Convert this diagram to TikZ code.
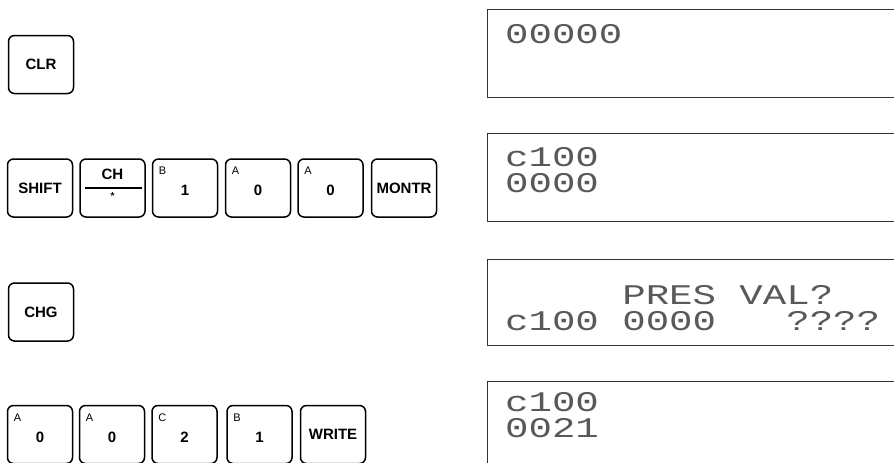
\documentclass[tikz,border=0pt]{standalone}
\usepackage{fontspec}
\setmainfont{Liberation Sans}
\newfontfamily\lcdfont[FakeStretch=1.37]{Liberation Mono}
\usetikzlibrary{calc}

\begin{document}
\begin{tikzpicture}[x=1pt, y=-1pt,
  key/.style={draw, line width=1.5pt, rounded corners=6pt, minimum width=65pt,
    minimum height=58pt, inner sep=0pt, font=\bfseries\fontsize{15}{15}\selectfont},
  sub/.style={anchor=north west, inner sep=0pt, font=\fontsize{11}{11}\selectfont},
  digit/.style={inner sep=0pt, font=\bfseries\fontsize{15}{15}\selectfont},
  lcd/.style={draw=black!80, line width=0.9pt},
  lcdtext/.style={anchor=base west, inner sep=0pt, text=black!65,
    font=\lcdfont\fontsize{28.5}{28.5}\selectfont}]
\useasboundingbox (0,0) rectangle (894,463);

% displays
\draw[lcd] (487,9) rectangle (900,97);
\draw[lcd] (487,133) rectangle (900,221);
\draw[lcd] (487,259) rectangle (900,345);
\draw[lcd] (487,475) |- (900,381);
\node[lcdtext] (d1) at (505,43) {00000};
\node[lcdtext] (d2a) at (505,166) {c100};
\node[lcdtext] (d2b) at (505,192) {0000};
\node[lcdtext] (d3a) at (505,304) {~~~~~PRES~VAL?};
\node[lcdtext] (d3b) at (505,330) {c100~0000~~~????};
\node[lcdtext] (d4a) at (505,411) {c100};
\node[lcdtext] (d4b) at (505,437) {0021};

% step 1
\node[key] (clr) at (41,64.5) {CLR};

% step 2
\node[key] (shift) at (40,188) {SHIFT};
\node[key] (ch) at (112.5,188) {};
\node[digit] (chtop) at ($(ch.center)+(0,-14)$) {CH};
\draw[line width=1.5pt] ($(ch.west)+(6,0)$) -- ($(ch.east)+(-4,0)$);
\node[digit, font=\bfseries\fontsize{10}{10}\selectfont] (chbot) at ($(ch.center)+(0,8)$) {*};
\foreach \name/\x/\s/\d in {bone/185/B/1, azero/258/A/0, azerob/330.5/A/0} {
  \node[key] (\name) at (\x,188) {};
  \node[sub] (\name s) at ($(\name.north west)+(7,8)$) {\s};
  \node[digit] (\name d) at ($(\name.center)+(0,2)$) {\d};
}
\node[key] (montr) at (404,188) {MONTR};

% step 3
\node[key] (chg) at (41,312) {CHG};

% step 4
\foreach \name/\x/\s/\d in {wzero/40/A/0, wzerob/112/A/0, wtwo/184.5/C/2, wone/259.5/B/1} {
  \node[key] (\name) at (\x,434.5) {};
  \node[sub] (\name s) at ($(\name.north west)+(7,9)$) {\s};
  \node[digit] (\name d) at ($(\name.center)+(0,3)$) {\d};
}
\node[key] (write) at (333,434.5) {WRITE};
\end{tikzpicture}
\end{document}
